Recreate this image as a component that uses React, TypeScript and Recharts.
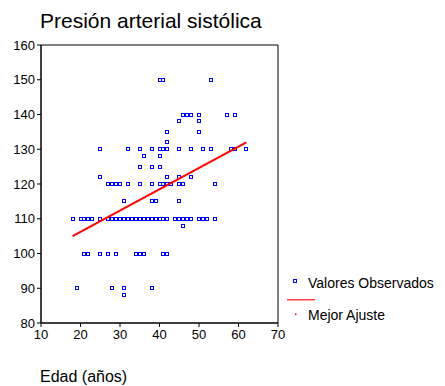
import React from 'react';
import {
  ScatterChart, Scatter, XAxis, YAxis, ReferenceArea,
} from 'recharts';

// Systolic pressure levels and the ages observed at each level
const pressureLevels = [150, 140, 138, 135, 132, 130, 128, 125, 122, 120, 115, 110, 108, 100, 90, 88];
const agesAtLevel = [
  [40, 41, 53],
  [46, 47, 48, 50, 57, 59],
  [45, 50],
  [42, 50],
  [42],
  [25, 32, 35, 38, 40, 41, 42, 45, 48, 51, 53, 58, 59, 62],
  [36, 40],
  [35, 38, 40],
  [25, 42, 45, 48],
  [27, 28, 29, 30, 32, 35, 38, 40, 41, 42, 43, 45, 46, 54],
  [31, 38, 39, 45],
  [18, 20, 21, 22, 23, 25, 27, 28, 29, 30, 31, 32, 33, 34, 35, 36, 37, 38, 39, 40, 41, 42, 44, 45, 46, 47, 48, 50, 51, 52, 54],
  [46],
  [21, 22, 25, 27, 29, 34, 35, 36, 41, 42],
  [19, 28, 31, 38],
  [31],
];

// Fitted regression line, end points
const fitAges = [18, 62];
const fitPressures = [105, 132];

const xTicks = [10, 20, 30, 40, 50, 60, 70];
const yTicks = [80, 90, 100, 110, 120, 130, 140, 150, 160];

const observed = pressureLevels.flatMap((p, i) => agesAtLevel[i].map(a => ({ x: a, y: p })));
const fitLine = fitAges.map((a, i) => ({ x: a, y: fitPressures[i] }));

const FONT = '"Liberation Sans", Arial, sans-serif';
const BLUE = '#0000ff';
const RED = '#ff0000';

const SquareDot = (props: any) => {
  const { cx, cy } = props;
  if (cx == null || cy == null) return <g />;
  return (
    <rect
      x={Math.round(cx) - 1.5}
      y={Math.round(cy) - 1.5}
      width={3}
      height={3}
      fill="#fff"
      stroke={BLUE}
      strokeWidth={1}
    />
  );
};

const tickStyle = { fill: '#000', fontSize: 13, fontFamily: FONT };

export default function App() {
  return (
    <div style={{ position: 'absolute', left: 0, top: 0, width: 445, height: 386, background: '#fff', fontFamily: FONT }}>
      <div style={{ position: 'absolute', left: 40, top: 10, fontSize: 21, lineHeight: '21px', color: '#000', whiteSpace: 'nowrap' }}>
        Presión arterial sistólica
      </div>
      <ScatterChart width={445} height={386} margin={{ top: 45, right: 167, bottom: 33, left: 0 }}>
        <XAxis
          type="number"
          dataKey="x"
          domain={[10, 70]}
          ticks={xTicks}
          allowDataOverflow
          height={30}
          tickSize={4}
          tickMargin={3}
          tick={tickStyle}
          stroke="#000"
        />
        <YAxis
          type="number"
          dataKey="y"
          domain={[80, 160]}
          ticks={yTicks}
          allowDataOverflow
          width={41}
          tickSize={4}
          tickMargin={2}
          tick={tickStyle}
          stroke="#000"
        />
        <ReferenceArea x1={10} x2={70} y1={80} y2={160} fill="none" stroke="#000" strokeWidth={1} />
        <Scatter
          name="Valores Observados"
          data={observed}
          shape={SquareDot}
          isAnimationActive={false}
        />
        <Scatter
          name="Mejor Ajuste"
          data={fitLine}
          line={{ stroke: RED, strokeWidth: 2 }}
          shape={() => <g />}
          isAnimationActive={false}
        />
      </ScatterChart>
      <svg style={{ position: 'absolute', left: 285, top: 272 }} width={160} height={56}>
        <rect x={8.5} y={7.5} width={3} height={3} fill="#fff" stroke={BLUE} strokeWidth={1} />
        <text x={23} y={16} fontSize={14} fontFamily={FONT} fill="#000">Valores Observados</text>
        <rect x={2} y={27} width={28} height={1.5} fill="#ff4040" />
        <rect x={10} y={41.5} width={1.5} height={1.5} fill={RED} />
        <text x={23} y={47.5} fontSize={14} fontFamily={FONT} fill="#000">Mejor Ajuste</text>
      </svg>
      <div style={{ position: 'absolute', left: 40, top: 369, fontSize: 16, lineHeight: '16px', color: '#000', whiteSpace: 'nowrap' }}>
        Edad (años)
      </div>
    </div>
  );
}
